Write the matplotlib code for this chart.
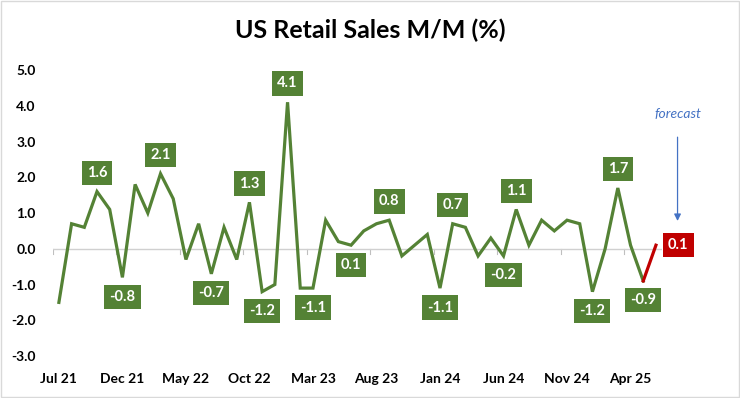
import matplotlib
matplotlib.use("Agg")
import matplotlib.pyplot as plt
from matplotlib.patches import Rectangle

plt.rcParams['font.family'] = ['Lato', 'DejaVu Sans']

# monthly values, Jul 21 .. May 25 (actual), Jun 25 forecast
months = ["Jul 21", "Aug 21", "Sep 21", "Oct 21", "Nov 21", "Dec 21",
          "Jan 22", "Feb 22", "Mar 22", "Apr 22", "May 22", "Jun 22",
          "Jul 22", "Aug 22", "Sep 22", "Oct 22", "Nov 22", "Dec 22",
          "Jan 23", "Feb 23", "Mar 23", "Apr 23", "May 23", "Jun 23",
          "Jul 23", "Aug 23", "Sep 23", "Oct 23", "Nov 23", "Dec 23",
          "Jan 24", "Feb 24", "Mar 24", "Apr 24", "May 24", "Jun 24",
          "Jul 24", "Aug 24", "Sep 24", "Oct 24", "Nov 24", "Dec 24",
          "Jan 25", "Feb 25", "Mar 25", "Apr 25", "May 25", "Jun 25"]
actual = [-1.5, 0.7, 0.6, 1.6, 1.1, -0.8,
          1.8, 1.0, 2.1, 1.4, -0.3, 0.7,
          -0.7, 0.6, -0.3, 1.3, -1.2, -1.0,
          4.1, -1.1, -1.1, 0.8, 0.2, 0.1,
          0.5, 0.7, 0.8, -0.2, 0.1, 0.4,
          -1.1, 0.7, 0.6, -0.2, 0.3, -0.2,
          1.1, 0.1, 0.8, 0.5, 0.8, 0.7,
          -1.2, 0.0, 1.7, 0.1, -0.9]
forecast = 0.1

# which points get a data label, above or below the line
labels_above = [3, 8, 15, 18, 26, 31, 36, 44]
labels_below = [5, 12, 16, 20, 23, 30, 35, 42, 46]

green = "#548235"
red = "#C00000"
blue = "#4472C4"

fig = plt.figure(figsize=(7.4, 3.98), dpi=100)
ax = fig.add_axes([0.071, 0.1055, 0.824, 0.7185])

x = list(range(len(actual)))
ax.plot(x, actual, color=green, lw=2.3, solid_joinstyle='miter', zorder=3)
ax.plot([x[-1], x[-1] + 1], [actual[-1], forecast], color=red, lw=2.3, zorder=3)

box = dict(boxstyle="square,pad=0.35", fc=green, ec="none")
for i in labels_above:
    ax.annotate(f"{actual[i]:.1f}", (i, actual[i]), xytext=(0, 13.5), textcoords="offset points",
                ha="center", va="center", color="white", fontsize=10.5, fontweight="bold", bbox=box, zorder=4)
for i in labels_below:
    ax.annotate(f"{actual[i]:.1f}", (i, actual[i]), xytext=(0, -14), textcoords="offset points",
                ha="center", va="center", color="white", fontsize=10.5, fontweight="bold", bbox=box, zorder=4)
ax.annotate(f"{forecast:.1f}", (len(actual), forecast), xytext=(16, 0), textcoords="offset points",
            ha="center", va="center", color="white", fontsize=10.5, fontweight="bold",
            bbox=dict(boxstyle="square,pad=0.35", fc=red, ec="none"), zorder=4)

# forecast note with arrow
ax.annotate("", xy=(len(actual) + 1.7, 0.7), xytext=(len(actual) + 1.7, 3.2),
            arrowprops=dict(arrowstyle="-|>", color=blue, lw=0.9, mutation_scale=10),
            annotation_clip=False)
ax.text(len(actual) + 1.7, 3.78, "forecast", color=blue, style="italic", fontsize=10,
        ha="center", va="center")

ax.set_xlim(-0.5, len(months) - 0.5)
ax.set_ylim(-3, 5)
ax.set_yticks([-3, -2, -1, 0, 1, 2, 3, 4, 5])
ax.set_yticklabels([f"{v:.1f}" for v in [-3, -2, -1, 0, 1, 2, 3, 4, 5]], fontsize=10, fontweight="bold")
ax.tick_params(axis="y", length=0, pad=12)

tick_pos = list(range(0, len(months), 5))
ax.set_xticks(tick_pos)
ax.set_xticklabels([months[i] for i in tick_pos], fontsize=10, fontweight="bold")
ax.tick_params(axis="x", length=0, pad=12)
for p in tick_pos:
    ax.plot([p - 0.5, p - 0.5], [0, -0.15], color="#BFBFBF", lw=0.8, zorder=1)
ax.axhline(0, color="#D0D0D0", lw=1, zorder=1)

for s in ax.spines.values():
    s.set_visible(False)

fig.text(0.5, 0.925, "US Retail Sales M/M (%)", ha="center", va="center",
         fontsize=18, fontweight="bold")
fig.patches.append(Rectangle((0.001, 0.002), 0.997, 0.995, transform=fig.transFigure,
                             fill=False, ec="#D9D9D9", lw=1))

fig.savefig("out.png", dpi=100)
